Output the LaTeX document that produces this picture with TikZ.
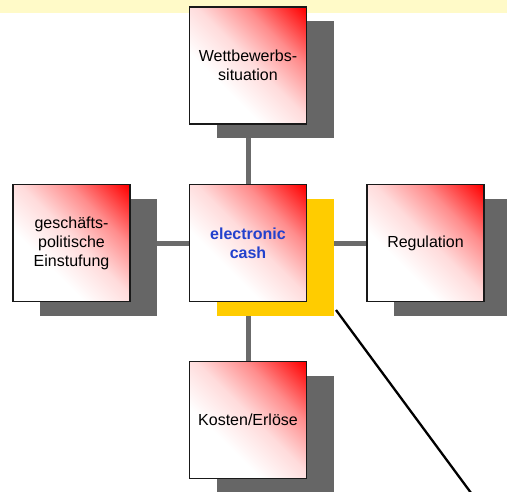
\documentclass[tikz,border=0pt]{standalone}
\usepackage{fontspec}
\setmainfont{Liberation Sans}
\usepackage{tikz}
\usetikzlibrary{shadows,backgrounds}

\definecolor{bandyellow}{RGB}{255,250,200}
\definecolor{shadowgold}{RGB}{255,204,0}
\definecolor{cashblue}{RGB}{35,65,205}
\pgfdeclareverticalshading{cardshade}{100bp}{color(0bp)=(white); color(36bp)=(white);
  color(52bp)=(red!14); color(67bp)=(red!45); color(85bp)=(red); color(100bp)=(red)}

\begin{document}
\begin{tikzpicture}[x=1pt,y=-1pt,
                    every node/.style={font=\fontsize{16}{19}\selectfont},
                    card/.style={draw=black!90, line width=1.8pt, minimum size=117pt,
                                 inner sep=0pt, align=center,
                                 shading=cardshade, shading angle=-45,
                                 drop shadow={shadow xshift=27pt, shadow yshift=-14pt,
                                              fill=#1, opacity=1}},
                    card/.default=black!60,
                    link/.style={line width=5pt, draw=black!58}]
        \useasboundingbox (0,0) rectangle (507,491);
        % boxes
        \node[card] (wett) at (248,65.5) {Wettbewerbs-\\situation};
        \node[card=shadowgold, text=cashblue,
              font=\fontsize{16}{19}\selectfont\bfseries] (cash) at (248,243) {electronic\\cash};
        \node[card] (pol)  at (71.5,243)  {geschäfts-\\politische\\Einstufung};
        \node[card] (reg)  at (425.5,243) {Regulation};
        \node[card] (kost) at (248,420)   {Kosten/Erlöse};
        % band and links behind the boxes
        \begin{scope}[on background layer]
          \fill[bandyellow] (0,0) rectangle (507,13);
          \draw[link] (wett) -- (cash);
          \draw[link] (pol) -- (cash);
          \draw[link] (cash) -- (reg);
          \draw[link] (cash) -- (kost);
        \end{scope}
        % pointer line
        \coordinate (tailstart) at (336,310);
        \coordinate (tailend)   at (477,501);
        \draw[line width=2.3pt] (tailstart) -- (tailend);
      \end{tikzpicture}
\end{document}
